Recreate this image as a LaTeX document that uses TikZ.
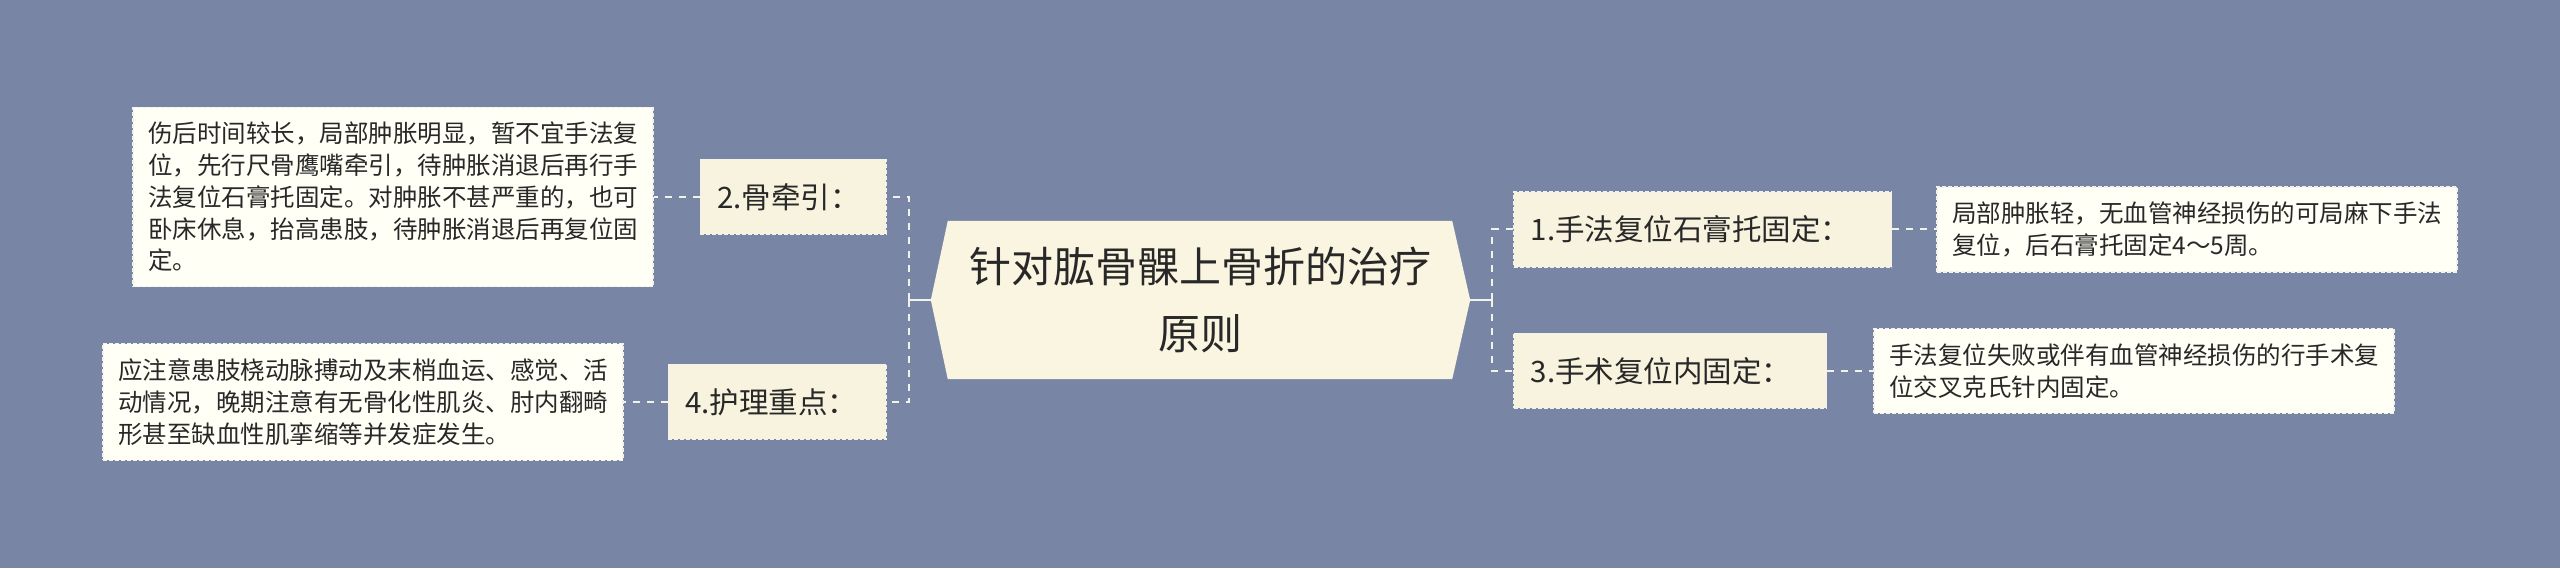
\documentclass[tikz,border=0pt]{standalone}
\usepackage{fontspec}
\newfontfamily\cjk{Noto Sans CJK SC}
\usepackage{tikz}
\usetikzlibrary{positioning,backgrounds}

\definecolor{bgblue}{RGB}{120,133,165}
\definecolor{rootfill}{RGB}{249,245,224}
\definecolor{branchfill}{RGB}{247,243,222}
\definecolor{leaffill}{RGB}{255,255,246}
\definecolor{edgeline}{RGB}{242,242,236}
\definecolor{inktext}{RGB}{40,40,40}

\tikzset{
  root/.style={inner sep=0pt, minimum width=539pt, minimum height=158pt,
    align=center, text=inktext, font=\cjk\fontsize{42pt}{67pt}\selectfont},
  branch/.style={draw=edgeline, dash pattern=on 4pt off 2pt, line width=1.2pt,
    fill=branchfill, inner xsep=17pt, minimum height=75pt, align=left,
    text=inktext, font=\cjk\fontsize{29.5pt}{34pt}\selectfont},
  leaf/.style={draw=edgeline, dash pattern=on 4pt off 2pt, line width=1.2pt,
    fill=leaffill, text width=490pt, inner xsep=15pt, inner ysep=15pt,
    align=left, text=inktext, font=\cjk\fontsize{24.5pt}{31.7pt}\selectfont},
  link/.style={draw=edgeline, line width=2pt, dash pattern=on 7pt off 7pt},
  stem/.style={draw=edgeline, line width=2pt},
}

\begin{document}
\begin{tikzpicture}[x=1pt, y=1pt]
		\begin{scope}[on background layer]
			\fill[bgblue] (0,0) rectangle (2560,568);
		\end{scope}
		\useasboundingbox (0,0) rectangle (2560,568);

		% Define nodes
		\node[root] (root) at (1200.5,268) {针对肱骨髁上骨折的治疗\\原则};

		\node[branch, text width=152pt, left=44pt of root.west, yshift=103pt, anchor=east] (b2) {2.骨牵引：};
		\node[branch, text width=184pt, left=44pt of root.west, yshift=-102pt, anchor=east] (b4) {4.护理重点：};
		\node[branch, text width=344pt, right=43pt of root.east, yshift=70.5pt, anchor=west] (b1) {1.手法复位石膏托固定：};
		\node[branch, text width=279pt, right=43pt of root.east, yshift=-71pt, anchor=west] (b3) {3.手术复位内固定：};

		\node[leaf, left=46pt of b2] (l2) {伤后时间较长，局部肿胀明显，暂不宜手法复\\位，先行尺骨鹰嘴牵引，待肿胀消退后再行手\\法复位石膏托固定。对肿胀不甚严重的，也可\\卧床休息，抬高患肢，待肿胀消退后再复位固\\定。};
		\node[leaf, left=44pt of b4] (l4) {应注意患肢桡动脉搏动及末梢血运、感觉、活\\动情况，晚期注意有无骨化性肌炎、肘内翻畸\\形甚至缺血性肌挛缩等并发症发生。};
		\node[leaf, right=44pt of b1] (l1) {局部肿胀轻，无血管神经损伤的可局麻下手法\\复位，后石膏托固定4～5周。};
		\node[leaf, right=46pt of b3] (l3) {手法复位失败或伴有血管神经损伤的行手术复\\位交叉克氏针内固定。};

		% Centre shape
		\begin{scope}[on background layer]
			\fill[rootfill] (root.west) -- ([xshift=17pt]root.north west)
				-- ([xshift=-18pt]root.north east) -- (root.east)
				-- ([xshift=-18pt]root.south east) -- ([xshift=17pt]root.south west) -- cycle;
		\end{scope}

		% Connect the nodes
		\coordinate[left=22pt of root.west] (jl);
		\coordinate[right=22pt of root.east] (jr);
		\draw[stem] (root.west) -- (jl);
		\draw[stem] (root.east) -- (jr);
		\draw[link] (jl) |- (b2.east);
		\draw[link] (jl) |- (b4.east);
		\draw[link] (jr) |- (b1.west);
		\draw[link] (jr) |- (b3.west);

		\draw[link] (b2) -- (l2);
		\draw[link] (b4) -- (l4);
		\draw[link] (b1) -- (l1);
		\draw[link] (b3) -- (l3);
	\end{tikzpicture}
\end{document}
